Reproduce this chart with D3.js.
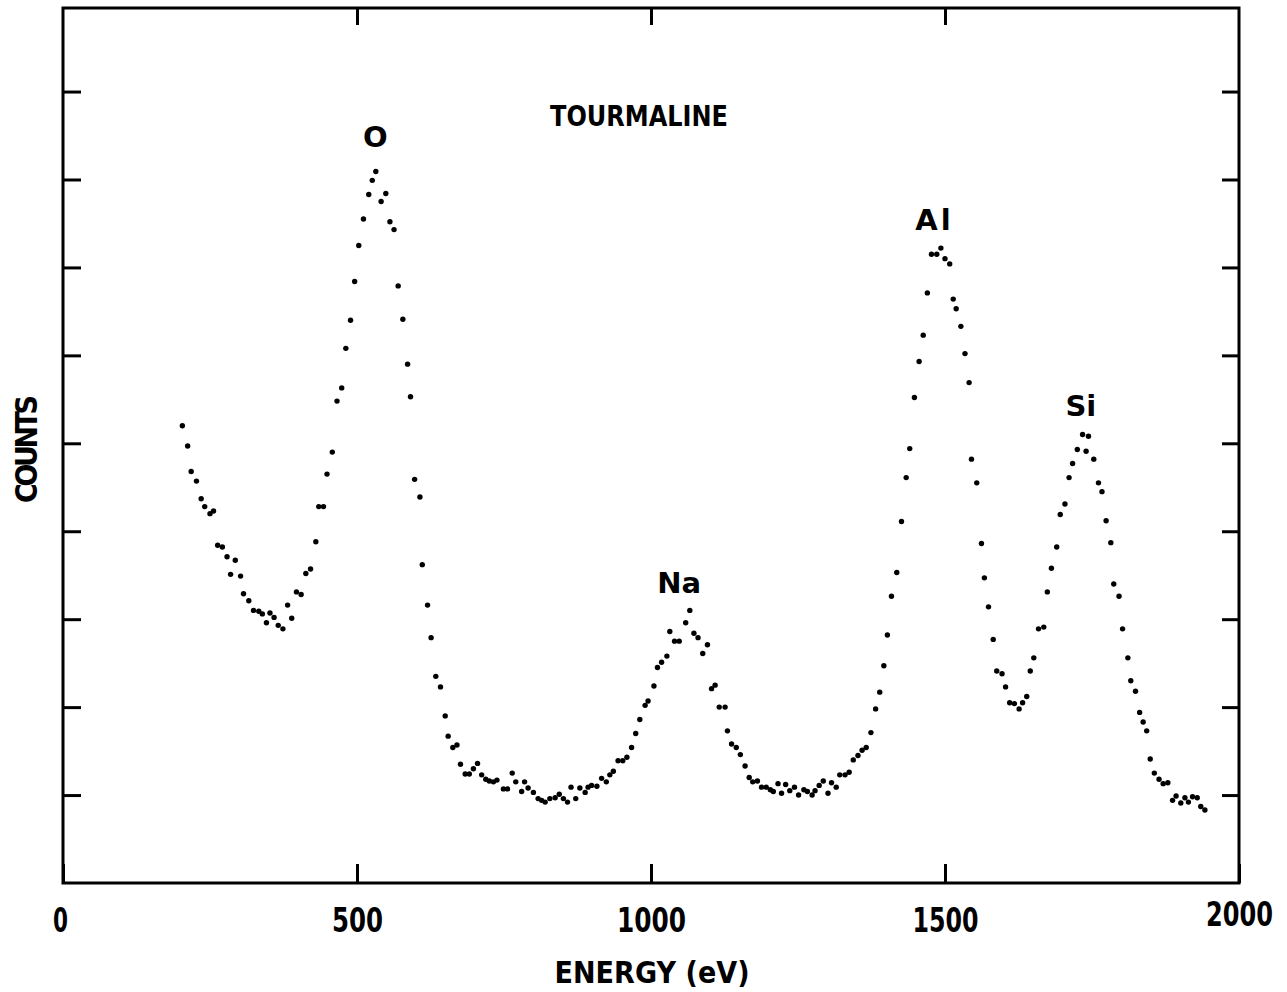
<!DOCTYPE html>
<html>
<head>
<meta charset="utf-8">
<script src="https://cdn.jsdelivr.net/npm/d3@7"></script>
<style>
  body { margin: 0; background: #fff; }
  svg { display: block; }
  .cond { font-family: "Liberation Sans Narrow", "DejaVu Sans Condensed", sans-serif; font-weight: bold; }
  .peak { font-family: "DejaVu Sans", sans-serif; font-weight: bold; }
</style>
</head>
<body>
<svg id="svg" width="1287" height="992"></svg>
<script>
// energy (eV) of each channel
var energy = [
  203, 212, 218, 227, 235, 241, 250, 256, 263, 271, 279, 285, 293, 302, 307, 316, 324, 333, 339, 346,
  352, 359, 366, 374, 382, 389, 397, 405, 413, 421, 430, 435, 443, 449, 458, 466, 474, 481, 489, 496,
  503, 511, 520, 526, 532, 541, 549, 556, 563, 570, 578, 586, 591, 598, 607, 611, 620, 626, 634, 642,
  650, 655, 663, 670, 676, 684, 691, 698, 705, 712, 719, 725, 732, 738, 749, 756, 764, 770, 780, 785,
  791, 800, 808, 814, 820, 828, 837, 844, 851, 858, 864, 872, 879, 888, 893, 899, 908, 916, 924, 930,
  936, 944, 952, 959, 967, 974, 981, 990, 995, 1005, 1011, 1018, 1027, 1032, 1040, 1048, 1059, 1066, 1073, 1080,
  1088, 1096, 1103, 1109, 1116, 1126, 1130, 1137, 1145, 1152, 1160, 1167, 1173, 1181, 1188, 1196, 1203, 1208, 1216, 1222,
  1229, 1236, 1244, 1251, 1260, 1266, 1274, 1279, 1286, 1293, 1301, 1307, 1315, 1321, 1330, 1337, 1344, 1352, 1359, 1366,
  1374, 1382, 1389, 1396, 1402, 1409, 1418, 1426, 1434, 1440, 1448, 1456, 1463, 1470, 1477, 1486, 1493, 1500, 1508, 1514,
  1519, 1527, 1534, 1541, 1545, 1554, 1562, 1567, 1574, 1582, 1588, 1597, 1603, 1610, 1618, 1626, 1632, 1639, 1645, 1651,
  1659, 1668, 1674, 1681, 1690, 1696, 1704, 1711, 1717, 1725, 1734, 1740, 1744, 1753, 1761, 1767, 1774, 1782, 1787, 1796,
  1802, 1811, 1816, 1824, 1831, 1837, 1843, 1849, 1856, 1864, 1871, 1879, 1887, 1893, 1901, 1908, 1914, 1921, 1929, 1935,
  1942
];

// counts (arbitrary units, one tick = 100)
var counts = [
  520, 497, 468, 457, 437, 428, 420, 423, 384, 382, 371, 351, 367, 349, 329, 321, 310, 309, 306, 296,
  307, 302, 293, 289, 316, 301, 331, 328, 352, 357, 388, 428, 428, 465, 490, 548, 563, 608, 640, 684,
  725, 755, 783, 799, 809, 775, 784, 752, 743, 679, 641, 590, 553, 459, 439, 362, 316, 279, 235, 223,
  190, 167, 154, 157, 135, 124, 124, 130, 136, 123, 118, 116, 115, 117, 107, 107, 125, 115, 104, 115,
  108, 103, 96, 94, 92, 96, 97, 101, 96, 92, 109, 96, 108, 103, 109, 111, 110, 119, 115, 123,
  127, 139, 139, 143, 154, 170, 186, 202, 207, 224, 245, 251, 258, 286, 275, 275, 296, 310, 284, 279,
  261, 271, 221, 225, 200, 200, 173, 158, 154, 146, 133, 120, 115, 116, 109, 109, 106, 104, 113, 102,
  112, 105, 109, 100, 106, 104, 100, 105, 111, 116, 102, 114, 109, 123, 123, 126, 140, 145, 151, 154,
  171, 198, 217, 247, 282, 326, 353, 411, 461, 494, 552, 593, 623, 671, 715, 715, 722, 710, 704, 664,
  653, 633, 602, 569, 482, 455, 386, 347, 314, 277, 241, 238, 223, 205, 204, 198, 205, 212, 241, 256,
  289, 291, 331, 358, 382, 419, 431, 461, 477, 493, 510, 491, 508, 482, 455, 445, 412, 387, 340, 326,
  289, 256, 230, 218, 194, 183, 173, 141, 125, 118, 113, 114, 94, 99, 91, 97, 92, 98, 97, 87,
  83
];

var xTicks = [0, 500, 1000, 1500, 2000];
var yTicks = [100, 200, 300, 400, 500, 600, 700, 800, 900];

var peakNames = ["O", "Na", "Al", "Si"];
var peakEnergy = [531, 1048, 1482, 1731];
var peakCounts = [837, 330, 742, 531];

var data = energy.map(function (e, i) {
  return { e: e, c: counts[i] };
});

var svg = d3.select("#svg");

var x = d3.scaleLinear().domain([0, 2000]).range([63, 1239]);
var y = d3.scaleLinear().domain([0, 995]).range([883, 8]);

// frame
svg
  .append("rect")
  .attr("x", x(0))
  .attr("y", y(995))
  .attr("width", x(2000) - x(0))
  .attr("height", y(0) - y(995))
  .attr("fill", "none")
  .attr("stroke", "#000")
  .attr("stroke-width", 3);

// bottom axis, ticks point inward
var xAxis = svg
  .append("g")
  .attr("transform", "translate(0," + y(0) + ")")
  .call(
    d3.axisBottom(x).tickValues(xTicks).tickSize(-19).tickPadding(25).tickFormat(d3.format("d"))
  );

// top axis, ticks only
var xTop = svg
  .append("g")
  .attr("transform", "translate(0," + y(995) + ")")
  .call(d3.axisTop(x).tickValues([500, 1000, 1500]).tickSize(-17).tickFormat(""));

var yLeft = svg
  .append("g")
  .attr("transform", "translate(" + x(0) + ",0)")
  .call(d3.axisLeft(y).tickValues(yTicks).tickSize(-18).tickFormat(""));

var yRight = svg
  .append("g")
  .attr("transform", "translate(" + x(2000) + ",0)")
  .call(d3.axisRight(y).tickValues(yTicks).tickSize(-17).tickFormat(""));

[xAxis, xTop, yLeft, yRight].forEach(function (g) {
  g.select(".domain").remove();
  g.selectAll(".tick line").attr("stroke", "#000").attr("stroke-width", 3);
});

// label widths measured on the original
var labelWidth = { 0: 15, 500: 51, 1000: 69, 1500: 66, 2000: 67 };

xAxis
  .selectAll(".tick text")
  .attr("class", "cond")
  .attr("font-size", 34)
  .attr("fill", "#000")
  .attr("textLength", function (d) {
    return labelWidth[d];
  })
  .attr("lengthAdjust", "spacingAndGlyphs")
  .attr("x", function (d) {
    return d === 0 ? -3 : 0;
  })
  .attr("dy", function (d) {
    return d === 2000 ? "0.53em" : "0.71em";
  });

// data points
svg
  .append("g")
  .selectAll("circle")
  .data(data)
  .enter()
  .append("circle")
  .attr("cx", function (d) {
    return x(d.e);
  })
  .attr("cy", function (d) {
    return y(d.c);
  })
  .attr("r", 2.7)
  .attr("fill", "#000");

// peak labels
svg
  .append("g")
  .selectAll("text")
  .data(peakNames)
  .enter()
  .append("text")
  .attr("class", "peak")
  .attr("x", function (d, i) {
    return x(peakEnergy[i]);
  })
  .attr("y", function (d, i) {
    return y(peakCounts[i]);
  })
  .attr("text-anchor", "middle")
  .attr("font-size", 29)
  .attr("letter-spacing", function (d) {
    return d === "Al" ? 3 : 0;
  })
  .text(function (d) {
    return d;
  });

svg
  .append("text")
  .attr("class", "cond")
  .attr("x", 639)
  .attr("y", 126)
  .attr("text-anchor", "middle")
  .attr("font-size", 29)
  .attr("textLength", 178)
  .attr("lengthAdjust", "spacingAndGlyphs")
  .text("TOURMALINE");

svg
  .append("text")
  .attr("class", "cond")
  .attr("x", 652)
  .attr("y", 983)
  .attr("text-anchor", "middle")
  .attr("font-size", 30)
  .attr("textLength", 195)
  .attr("lengthAdjust", "spacing")
  .text("ENERGY (eV)");

svg
  .append("text")
  .attr("class", "cond")
  .attr("transform", "translate(37,449) rotate(-90)")
  .attr("text-anchor", "middle")
  .attr("font-size", 30)
  .attr("textLength", 108)
  .attr("lengthAdjust", "spacing")
  .text("COUNTS");
</script>
</body>
</html>
